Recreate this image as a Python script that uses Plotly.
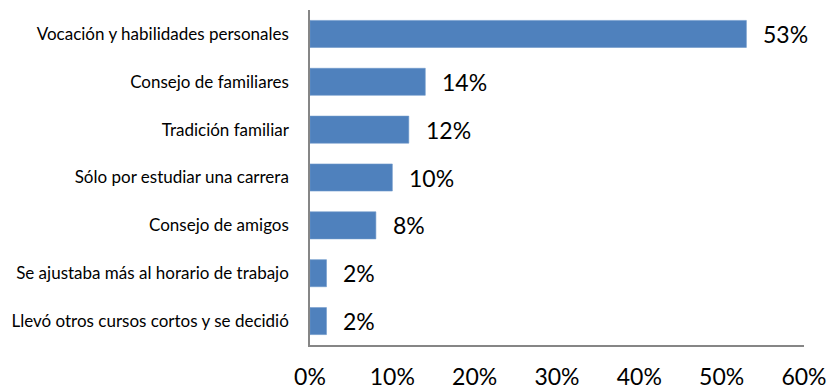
import plotly.graph_objects as go

# Survey reasons for choosing a career (percent of respondents)
categories = [
    "Vocación y habilidades personales",
    "Consejo de familiares",
    "Tradición familiar",
    "Sólo por estudiar una carrera",
    "Consejo de amigos",
    "Se ajustaba más al horario de trabajo",
    "Llevó otros cursos cortos y se decidió",
]
values = [53, 14, 12, 10, 8, 2, 2]
x_ticks = [0, 10, 20, 30, 40, 50, 60]
x_tick_labels = [f"{v}%" for v in x_ticks]

bar_color = "#4F81BD"
axis_color = "#868686"
font_family = "Lato, 'Open Sans', sans-serif"

fig = go.Figure()
fig.add_trace(go.Bar(
    x=values,
    y=categories,
    orientation="h",
    marker=dict(color=bar_color, line=dict(color="#6C97CA", width=0.6)),
    width=0.565,
    hoverinfo="skip",
))

# Value labels placed just past the end of each bar
for cat, val in zip(categories, values):
    fig.add_annotation(
        x=val, y=cat, text=f"{val}%",
        xanchor="left", yanchor="middle", xshift=15,
        showarrow=False,
        font=dict(family=font_family, size=23, color="#000000"),
    )

fig.update_layout(
    width=830, height=389,
    margin=dict(l=310, r=26, t=10, b=44),
    paper_bgcolor="white", plot_bgcolor="white",
    showlegend=False,
    font=dict(family=font_family, color="#000000"),
)
fig.update_xaxes(
    range=[0, 60],
    tickvals=x_ticks, ticktext=x_tick_labels,
    showgrid=False, zeroline=False,
    showline=True, linecolor=axis_color, linewidth=1.5,
    ticks="", ticklabelstandoff=11, automargin=False,
    tickfont=dict(family=font_family, size=23, color="#000000"),
)
fig.update_yaxes(
    categoryorder="array", categoryarray=categories,
    autorange="reversed",
    showgrid=False, zeroline=False,
    showline=True, linecolor=axis_color, linewidth=1.5,
    ticks="", ticklabelstandoff=16, automargin=False,
    tickfont=dict(family=font_family, size=17, color="#000000"),
)

fig.write_html("out.html")
